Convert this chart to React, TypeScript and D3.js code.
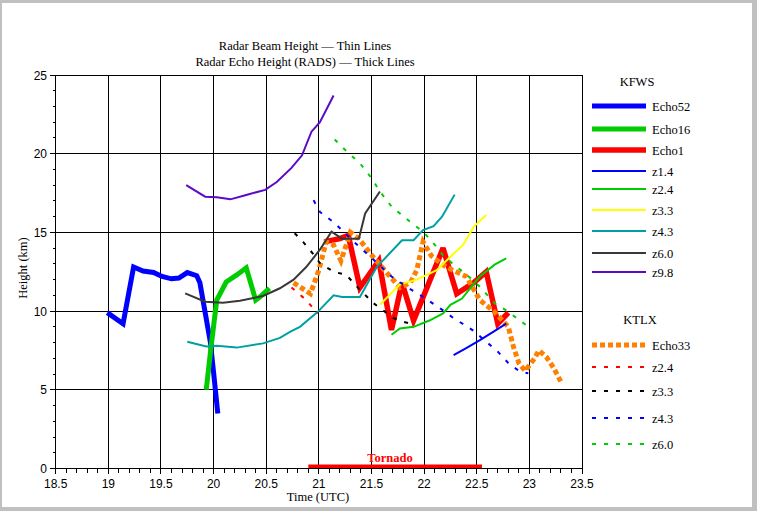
import React from "react";
import * as d3 from "d3";

type P = [number, number];

// KFWS radar echo heights (thick lines) [time UTC, height km]
const echo52: P[] = [[18.99,9.9],[19.14,9.2],[19.24,12.8],[19.33,12.55],[19.43,12.45],[19.51,12.2],[19.6,12.05],[19.67,12.1],[19.75,12.45],[19.84,12.25],[19.87,11.8],[19.92,9.9],[19.97,8.0],[20.0,6.1],[20.04,3.5]];
const echo16: P[] = [[19.93,5.0],[19.98,7.95],[20.03,10.7],[20.12,11.85],[20.22,12.3],[20.31,12.75],[20.4,10.7],[20.45,10.95],[20.53,11.45]];
const echo1: P[] = [[21.05,14.4],[21.2,14.6],[21.28,14.8],[21.39,11.5],[21.57,13.2],[21.69,8.8],[21.79,11.8],[21.9,9.4],[22.18,14.0],[22.31,11.1],[22.47,11.8],[22.59,12.5],[22.7,9.2],[22.8,9.9]];
// KFWS beam heights (thin lines)
const z14: P[] = [[22.28,7.2],[22.4,7.65],[22.53,8.15],[22.66,8.7],[22.78,9.2]];
const z24: P[] = [[21.69,8.5],[21.77,8.9],[21.9,9.0],[22.05,9.4],[22.18,9.85],[22.25,10.4],[22.36,10.8],[22.45,11.55],[22.53,12.2],[22.67,12.95],[22.78,13.35]];
const z33: P[] = [[21.58,10.4],[21.77,11.7],[21.93,12.0],[22.12,12.6],[22.25,13.45],[22.37,14.2],[22.47,15.35],[22.59,16.1]];
const z43: P[] = [[19.75,8.05],[19.93,7.75],[20.03,7.8],[20.22,7.68],[20.47,7.95],[20.63,8.3],[20.73,8.7],[20.82,9.0],[20.99,9.95],[21.14,11.0],[21.22,10.9],[21.39,10.9],[21.55,12.8],[21.79,14.5],[21.9,14.5],[21.99,15.15],[22.09,15.4],[22.17,16.0],[22.29,17.4]];
const z60: P[] = [[19.73,11.13],[19.92,10.6],[20.09,10.53],[20.25,10.66],[20.47,10.96],[20.63,11.45],[20.76,12.0],[20.88,12.8],[21.01,13.9],[21.12,15.05],[21.22,14.6],[21.38,14.6],[21.44,16.2],[21.58,17.6]];
const z98: P[] = [[19.74,18.0],[19.92,17.27],[20.03,17.23],[20.16,17.1],[20.31,17.38],[20.49,17.7],[20.6,18.2],[20.74,19.1],[20.84,19.9],[20.93,21.4],[21.01,22.0],[21.14,23.7]];
// KTLX
const echo33: P[] = [[20.76,11.8],[20.92,11.1],[21.0,12.6],[21.07,14.4],[21.14,14.2],[21.21,13.2],[21.3,15.0],[21.38,14.6],[21.52,13.4],[21.65,12.4],[21.77,11.5],[21.87,11.8],[21.93,12.6],[21.99,14.4],[22.07,13.5],[22.21,12.8],[22.4,12.2],[22.53,10.7],[22.66,10.0],[22.8,9.0],[22.85,7.7],[22.9,6.7],[22.96,6.2],[23.05,7.0],[23.09,7.5],[23.16,7.1],[23.23,6.4],[23.3,5.5]];
const tz24: P[] = [[20.74,11.5],[20.88,10.7],[20.99,9.85]];
const tz33: P[] = [[20.77,14.95],[20.85,14.4],[20.95,13.6],[21.01,13.05],[21.14,12.5],[21.26,12.3],[21.39,11.35],[21.52,10.5],[21.71,9.55],[21.8,9.33],[21.9,9.15]];
const tz43: P[] = [[20.95,17.05],[21.01,16.3],[21.15,15.6],[21.3,14.6],[21.49,13.45],[21.69,12.2],[21.83,11.55],[21.99,10.9],[22.18,10.05],[22.28,9.55],[22.39,9.1],[22.48,8.7],[22.59,8.05],[22.69,7.5],[22.8,6.7],[22.91,6.15],[22.99,6.05]];
const tz60: P[] = [[21.15,20.9],[21.28,20.05],[21.39,19.4],[21.5,18.45],[21.58,17.6],[21.69,16.65],[21.79,16.1],[21.9,15.5],[21.99,15.05],[22.09,14.3],[22.18,13.55],[22.28,12.95],[22.39,12.4],[22.53,11.55],[22.67,10.5],[22.78,10.05],[22.88,9.55],[22.97,9.1]];

const tornado: [number, number] = [20.9, 22.55];

const xTicks = [18.5, 19, 19.5, 20, 20.5, 21, 21.5, 22, 22.5, 23, 23.5];
const yTicks = [0, 5, 10, 15, 20, 25];

interface S { name: string; data: P[]; color: string; width: number; dash?: string; }

const kfws: S[] = [
  { name: "Echo52", data: echo52, color: "#0000ff", width: 5 },
  { name: "Echo16", data: echo16, color: "#00cc00", width: 5 },
  { name: "Echo1", data: echo1, color: "#ff0000", width: 5.5 },
  { name: "z1.4", data: z14, color: "#0000ff", width: 2 },
  { name: "z2.4", data: z24, color: "#00cc00", width: 2 },
  { name: "z3.3", data: z33, color: "#ffff00", width: 2 },
  { name: "z4.3", data: z43, color: "#00a0a0", width: 2 },
  { name: "z6.0", data: z60, color: "#383838", width: 2 },
  { name: "z9.8", data: z98, color: "#5a0ac8", width: 2 },
];
const ktlx: S[] = [
  { name: "Echo33", data: echo33, color: "#ff8000", width: 5, dash: "5,3" },
  { name: "z2.4", data: tz24, color: "#ff0000", width: 2, dash: "4,8" },
  { name: "z3.3", data: tz33, color: "#000000", width: 2, dash: "4,8" },
  { name: "z4.3", data: tz43, color: "#0000ff", width: 2, dash: "4,8" },
  { name: "z6.0", data: tz60, color: "#00cc00", width: 2, dash: "4,8" },
];

const W = 757, H = 511;
const serif = "'Liberation Serif', 'DejaVu Serif', serif";
const sans = "'Liberation Sans', Arial, sans-serif";

export default function App() {
  const x = d3.scaleLinear().domain([18.5, 23.5]).range([55.7, 582]);
  const y = d3.scaleLinear().domain([0, 25]).range([468.5, 75]);
  const line = d3.line<P>().x(d => x(d[0])).y(d => y(d[1]));

  const minorX = d3.range(185, 236).map(v => v / 10);
  const minorY = d3.range(0, 26);
  const drawOrder: S[] = [kfws[0], kfws[1], kfws[2], ktlx[0], ...kfws.slice(3), ...ktlx.slice(1)];

  const legendItem = (s: S, yy: number, key: string) => (
    <g key={key}>
      <line x1={592} x2={646} y1={yy} y2={yy} stroke={s.color} strokeWidth={s.width} strokeDasharray={s.dash} />
      <text x={652} y={yy + 4.5} fontFamily={serif} fontSize={12.5} fill="#000">{s.name}</text>
    </g>
  );

  return (
    <svg width={W} height={H} style={{ position: "absolute", left: 0, top: 0 }}>
      <rect x={0} y={0} width={W} height={H} fill="#c0c0c0" />
      <rect x={2} y={3} width={750} height={504} fill="#ffffff" />

      {/* title */}
      <text x={305} y={50} textAnchor="middle" fontFamily={serif} fontSize={12.5}>Radar Beam Height — Thin Lines</text>
      <text x={305} y={66} textAnchor="middle" fontFamily={serif} fontSize={12.5}>Radar Echo Height (RADS) — Thick Lines</text>

      {/* grid */}
      <g stroke="#000" strokeWidth={1} shapeRendering="crispEdges">
        {xTicks.map(t => <line key={"gx" + t} x1={x(t)} x2={x(t)} y1={y(0)} y2={y(25)} />)}
        {yTicks.map(t => <line key={"gy" + t} x1={x(18.5)} x2={x(23.5)} y1={y(t)} y2={y(t)} />)}
        {minorX.map(t => <line key={"mx" + t} x1={x(t)} x2={x(t)} y1={y(0)} y2={y(0) + (Math.abs(t * 2 - Math.round(t * 2)) < 1e-6 ? 5 : 4)} />)}
        {minorY.map(t => <line key={"my" + t} x1={x(18.5) - (t % 5 === 0 ? 6 : 3)} x2={x(18.5)} y1={y(t)} y2={y(t)} />)}
      </g>

      {/* tick labels */}
      {xTicks.map(t => (
        <text key={"xl" + t} x={x(t)} y={488} textAnchor="middle" fontFamily={sans} fontSize={12}>{String(t)}</text>
      ))}
      {yTicks.map(t => (
        <text key={"yl" + t} x={47} y={y(t) + 4.5} textAnchor="end" fontFamily={sans} fontSize={12}>{String(t)}</text>
      ))}

      {/* axis titles */}
      <text x={318} y={501} textAnchor="middle" fontFamily={serif} fontSize={12.5}>Time (UTC)</text>
      <text transform="translate(27,268) rotate(-90)" textAnchor="middle" fontFamily={serif} fontSize={12.5}>Height (km)</text>

      {/* tornado */}
      <rect x={x(tornado[0])} y={464.5} width={x(tornado[1]) - x(tornado[0])} height={3.5} fill="#ff0000" />
      <text x={390} y={462} textAnchor="middle" fontFamily={serif} fontSize={12.5} fontWeight="bold" fill="#ff0000">Tornado</text>

      {/* series */}
      {drawOrder.map((s, i) => (
        <path key={"s" + i} d={line(s.data) || ""} fill="none" stroke={s.color} strokeWidth={s.width}
          strokeDasharray={s.dash} strokeLinejoin="miter" strokeMiterlimit={3} />
      ))}

      {/* legend */}
      <text x={637} y={86} textAnchor="middle" fontFamily={serif} fontSize={12.5}>KFWS</text>
      {kfws.map((s, i) => legendItem(s, [106, 129, 150, 171, 189, 210, 231, 253, 272][i], "k" + i))}
      <text x={640} y={324} textAnchor="middle" fontFamily={serif} fontSize={12.5}>KTLX</text>
      {ktlx.map((s, i) => legendItem(s, [345, 367, 391, 418, 444][i], "t" + i))}
    </svg>
  );
}
